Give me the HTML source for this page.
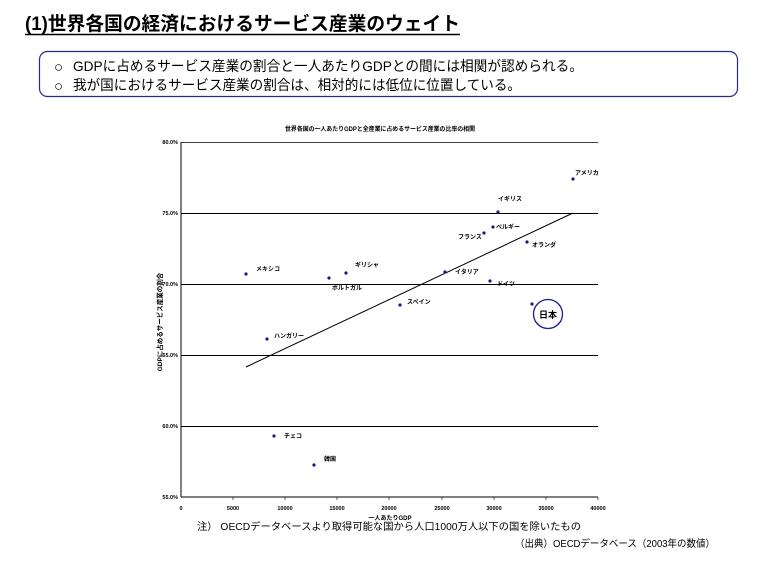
<!DOCTYPE html>
<html><head><meta charset="utf-8"><style>
html,body{margin:0;padding:0;background:#fff;}
svg{display:block;}
text{font-family:"Liberation Sans","Noto Sans CJK JP",sans-serif;fill:#000;}
</style></head><body>
<svg width="758" height="571" viewBox="0 0 758 571" xmlns="http://www.w3.org/2000/svg">
<text x="25" y="30" font-size="19" font-weight="bold" textLength="435" lengthAdjust="spacingAndGlyphs">(1)世界各国の経済におけるサービス産業のウェイト</text>
<line x1="25" y1="34.5" x2="460" y2="34.5" stroke="#000" stroke-width="1.5"/>
<rect x="39.5" y="51.5" width="698" height="45" rx="8" fill="none" stroke="#2a2a8a" stroke-width="1.2"/>
<text x="54" y="72" font-size="15">○</text>
<text x="54" y="91" font-size="15">○</text>
<text x="73" y="71" font-size="14" textLength="510" lengthAdjust="spacingAndGlyphs">GDPに占めるサービス産業の割合と一人あたりGDPとの間には相関が認められる。</text>
<text x="73" y="90" font-size="14" textLength="448" lengthAdjust="spacingAndGlyphs">我が国におけるサービス産業の割合は、相対的には低位に位置している。</text>

<text x="380" y="131" font-size="6" font-weight="bold" text-anchor="middle" textLength="190" lengthAdjust="spacingAndGlyphs">世界各国の一人あたりGDPと全産業に占めるサービス産業の比率の相関</text>
<g stroke="#000" stroke-width="1">
<line x1="181" y1="142" x2="181" y2="497"/>
<line x1="181" y1="497" x2="598" y2="497"/>
<line x1="181" y1="142.5" x2="598" y2="142.5" stroke-width="0.8"/>
<line x1="181" y1="213.5" x2="598" y2="213.5"/>
<line x1="181" y1="284.5" x2="598" y2="284.5"/>
<line x1="181" y1="355.5" x2="598" y2="355.5"/>
<line x1="181" y1="426.5" x2="598" y2="426.5"/>
<line x1="246" y1="367" x2="573" y2="213"/>
</g>
<g stroke="#000" stroke-width="0.6">
<line x1="233" y1="497" x2="233" y2="500"/><line x1="285" y1="497" x2="285" y2="500"/><line x1="337" y1="497" x2="337" y2="500"/><line x1="389" y1="497" x2="389" y2="500"/><line x1="442" y1="497" x2="442" y2="500"/><line x1="494" y1="497" x2="494" y2="500"/><line x1="546" y1="497" x2="546" y2="500"/><line x1="598" y1="497" x2="598" y2="500"/>
</g>
<g font-size="5.5" font-weight="bold" text-anchor="end">
<text x="178" y="144">80.0%</text><text x="178" y="215">75.0%</text><text x="178" y="286">70.0%</text><text x="178" y="357">65.0%</text><text x="178" y="428">60.0%</text><text x="178" y="499">55.0%</text>
</g>
<g font-size="5.5" font-weight="bold" text-anchor="middle">
<text x="181" y="510">0</text><text x="233" y="510">5000</text><text x="285" y="510">10000</text><text x="337" y="510">15000</text><text x="389" y="510">20000</text><text x="442" y="510">25000</text><text x="494" y="510">30000</text><text x="546" y="510">35000</text><text x="598" y="510">40000</text>
</g>
<text x="390" y="520" font-size="6" font-weight="bold" text-anchor="middle">一人あたりGDP</text>
<text transform="translate(162,322) rotate(-90)" font-size="6.5" font-weight="bold" text-anchor="middle">GDPに占めるサービス産業の割合</text>
<g fill="#1a1a80">
<circle cx="573" cy="179" r="1.6"/><circle cx="498" cy="212" r="1.6"/><circle cx="493" cy="227" r="1.6"/><circle cx="484" cy="233" r="1.6"/><circle cx="527" cy="242" r="1.6"/><circle cx="246" cy="274" r="1.6"/><circle cx="346" cy="273" r="1.6"/><circle cx="329" cy="278" r="1.6"/><circle cx="445" cy="272" r="1.6"/><circle cx="490" cy="281" r="1.6"/><circle cx="400" cy="305" r="1.6"/><circle cx="532" cy="304" r="1.6"/><circle cx="267" cy="339" r="1.6"/><circle cx="274" cy="436" r="1.6"/><circle cx="314" cy="465" r="1.6"/>
</g>
<g font-size="6" font-weight="bold">
<text x="575" y="175">アメリカ</text><text x="498" y="201">イギリス</text><text x="496" y="229">ベルギー</text><text x="458" y="239">フランス</text><text x="532" y="247">オランダ</text><text x="256" y="271">メキシコ</text><text x="355" y="267">ギリシャ</text><text x="332" y="290">ポルトガル</text><text x="455" y="274">イタリア</text><text x="497" y="286">ドイツ</text><text x="407" y="304">スペイン</text><text x="274" y="338">ハンガリー</text><text x="284" y="438">チェコ</text><text x="324" y="461">韓国</text>
</g>
<circle cx="548" cy="314" r="14.5" fill="none" stroke="#1a1a90" stroke-width="1.3"/>
<text x="548" y="318" font-size="9" font-weight="bold" text-anchor="middle">日本</text>
<text x="197" y="530" font-size="10" textLength="384" lengthAdjust="spacingAndGlyphs">注）  OECDデータベースより取得可能な国から人口1000万人以下の国を除いたもの</text>
<text x="515" y="547" font-size="10" textLength="200" lengthAdjust="spacingAndGlyphs">（出典）OECDデータベース（2003年の数値）</text>
</svg>
</body></html>
